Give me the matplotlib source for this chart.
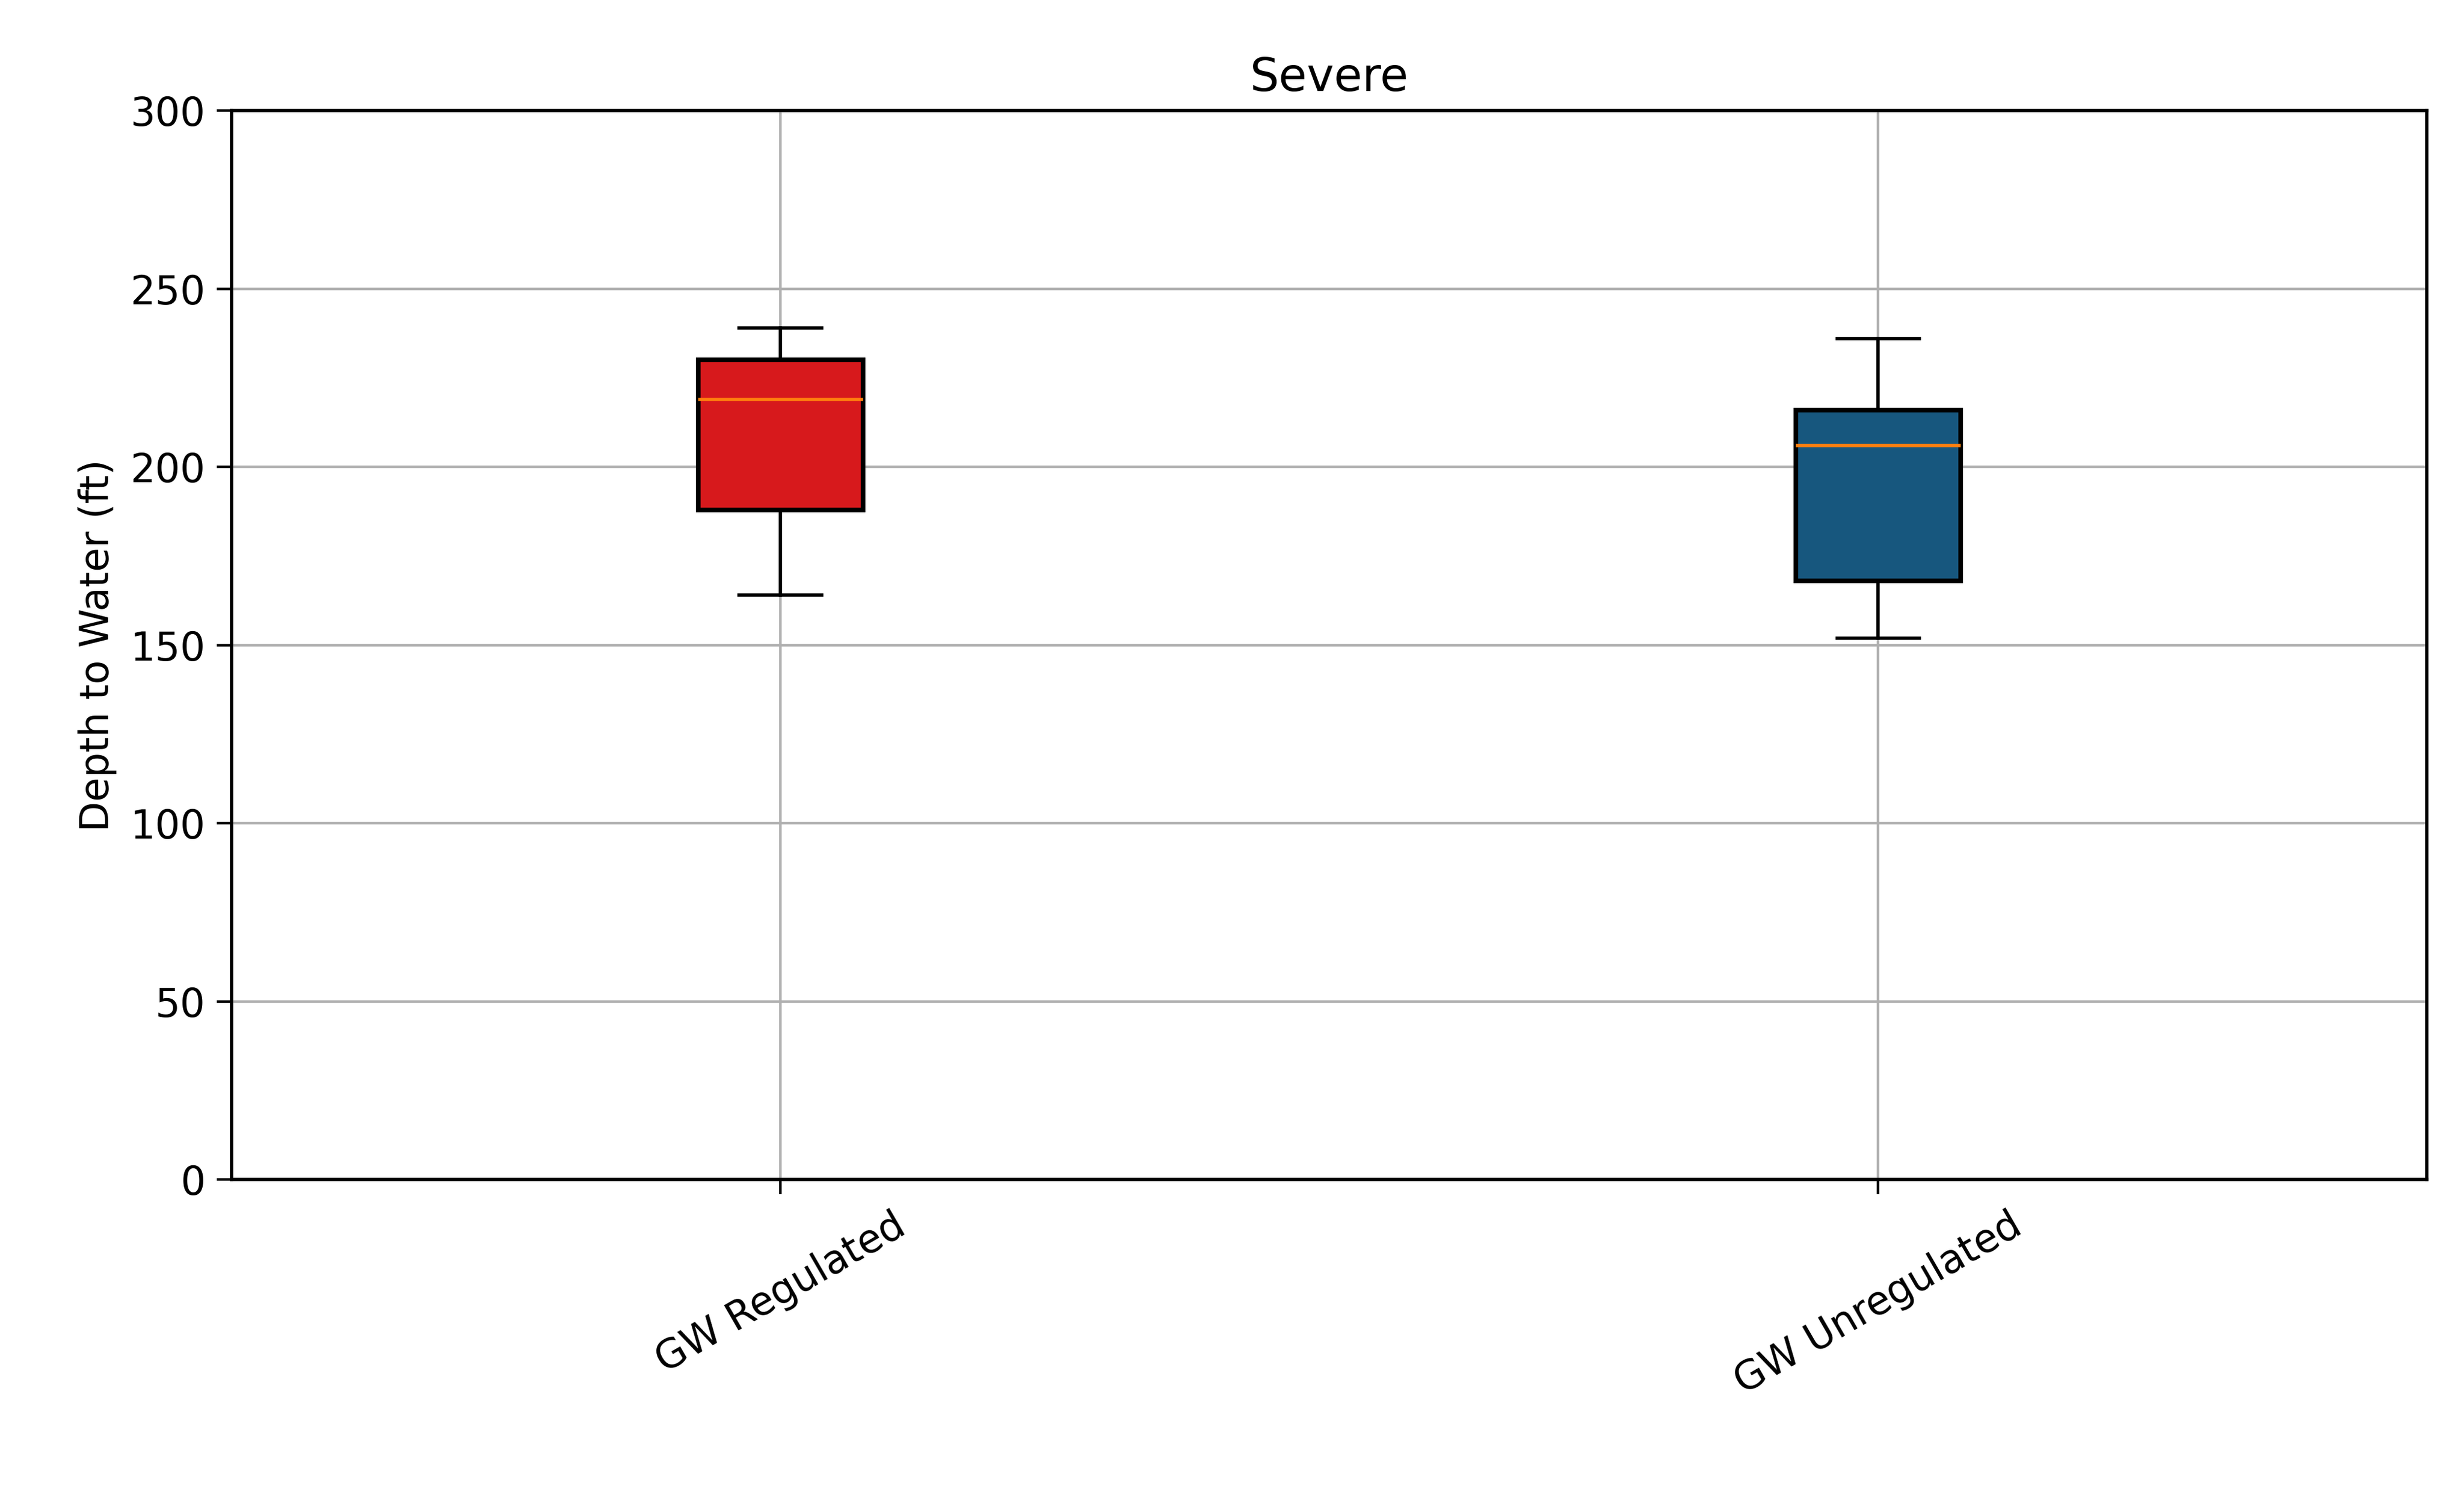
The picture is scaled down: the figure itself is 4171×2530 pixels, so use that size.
import matplotlib
matplotlib.use("Agg")
import matplotlib.pyplot as plt

labels = ["GW Regulated", "GW Unregulated"]
whislo = [164, 152]
q1 = [188, 168]
med = [219, 206]
q3 = [230, 216]
whishi = [239, 236]
colors = ["#d7191c", "#17577e"]

plt.rcParams["font.size"] = 12
plt.rcParams["lines.linewidth"] = 1.4
plt.rcParams["axes.linewidth"] = 1.0

stats = []
for i in range(len(labels)):
    stats.append(dict(label=labels[i], whislo=whislo[i], q1=q1[i], med=med[i],
                      q3=q3[i], whishi=whishi[i], fliers=[]))

fig, ax = plt.subplots(figsize=(10.4275, 6.325), dpi=400)
fig.subplots_adjust(left=0.094, right=0.985, top=0.926, bottom=0.211)

bp = ax.bxp(stats, patch_artist=True, widths=0.15, showfliers=False)
for patch, c in zip(bp["boxes"], colors):
    patch.set_facecolor(c)
    patch.set_edgecolor("black")
    patch.set_linewidth(1.4)

ax.set_ylim(0, 300)
ax.set_title("Severe", fontsize=14)
ax.set_ylabel("Depth to Water (ft)")
ax.grid(True)
ax.set_axisbelow(True)
ax.tick_params(length=4.5)
plt.setp(ax.get_xticklabels(), rotation=30)

fig.savefig("out.png")
